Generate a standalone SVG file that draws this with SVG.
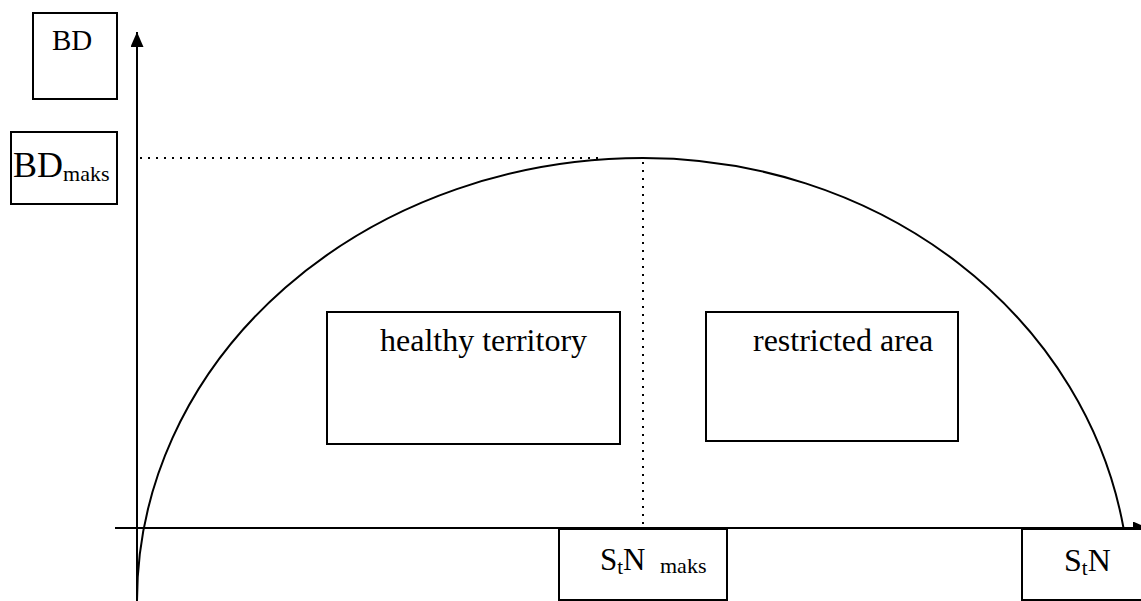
<svg xmlns="http://www.w3.org/2000/svg" width="1141" height="601" viewBox="0 0 1141 601">
<style>
.box{fill:#fff;stroke:#000;stroke-width:2}
.t{font-family:"Liberation Serif","Times New Roman",serif;fill:#000}
.ax{stroke:#000;stroke-width:2;fill:none}
.dot{stroke:#000;stroke-width:2;stroke-dasharray:2 6;fill:none}
.curve{stroke:#000;stroke-width:2;fill:none}
</style>
<defs>
<marker id="arr" viewBox="0 0 15 13" refX="15" refY="6.5" markerWidth="15" markerHeight="13" markerUnits="userSpaceOnUse" orient="auto">
<path d="M0,0 L15,6.5 L0,13 Z" fill="#000"/>
</marker>
</defs>
<rect width="1141" height="601" fill="#fff"/>
<g id="connectors">
<line class="dot" x1="140" y1="158" x2="598" y2="158"/>
<line class="dot" x1="643" y1="162" x2="643" y2="524"/>
<path class="curve" d="M137,601 A506,443 0 0 1 643,158 A487,442 0 0 1 1123.5,528"/>
<line class="ax" x1="137" y1="601" x2="137" y2="32" marker-end="url(#arr)"/>
<line class="ax" x1="115" y1="528" x2="1148" y2="528" marker-end="url(#arr)"/>
</g>
<g id="node-bd">
<rect class="box" x="33" y="13" width="84" height="86"/>
<text class="t" x="52" y="50" font-size="29">BD</text>
</g>
<g id="node-bdmaks">
<rect class="box" x="11" y="132" width="106" height="72"/>
<text class="t" x="13" y="177" font-size="36">BD<tspan font-size="22" dy="4">maks</tspan></text>
</g>
<g id="node-healthy">
<rect class="box" x="327" y="312" width="293" height="132"/>
<text class="t" x="380" y="351" font-size="32">healthy territory</text>
</g>
<g id="node-restricted">
<rect class="box" x="706" y="312" width="252" height="129"/>
<text class="t" x="753" y="351" font-size="32">restricted area</text>
</g>
<g id="node-stnmaks">
<rect class="box" x="559" y="529" width="168" height="71"/>
<text class="t" x="600" y="570" font-size="31">S<tspan font-size="21" dy="4">t</tspan><tspan dy="-4">N</tspan><tspan font-size="22" x="660" dy="3">maks</tspan></text>
</g>
<g id="node-stn">
<rect class="box" x="1022" y="529" width="130" height="71"/>
<text class="t" x="1064" y="571" font-size="32">S<tspan font-size="21" dy="4">t</tspan><tspan dy="-4">N</tspan></text>
</g>
</svg>
